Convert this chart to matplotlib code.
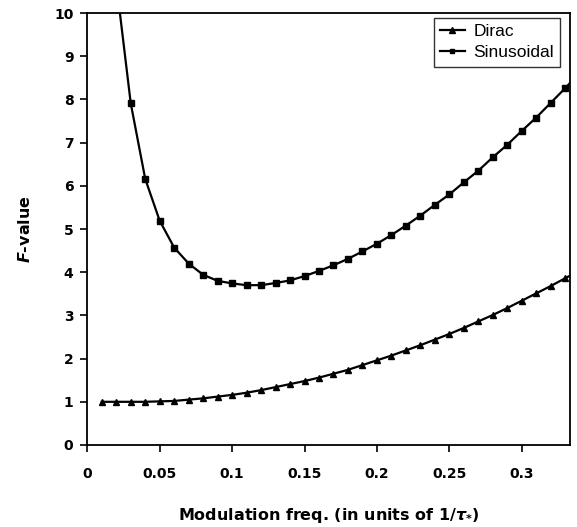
import numpy as np
import matplotlib
matplotlib.use("Agg")
import matplotlib.pyplot as plt

plt.rcParams['font.family'] = ['DejaVu Sans']
plt.rcParams['mathtext.fontset'] = 'custom'
plt.rcParams['mathtext.it'] = 'DejaVu Sans:italic:bold'
plt.rcParams['mathtext.rm'] = 'DejaVu Sans:bold'

# data
freq = [0.01, 0.02, 0.03, 0.04, 0.05, 0.06, 0.07, 0.08, 0.09, 0.10,
        0.11, 0.12, 0.13, 0.14, 0.15, 0.16, 0.17, 0.18, 0.19, 0.20,
        0.21, 0.22, 0.23, 0.24, 0.25, 0.26, 0.27, 0.28, 0.29, 0.30,
        0.31, 0.32, 0.33, 0.34]
dirac = [1.00, 1.00, 1.00, 1.00, 1.01, 1.02, 1.05, 1.08, 1.12, 1.16,
         1.21, 1.27, 1.34, 1.41, 1.48, 1.56, 1.65, 1.74, 1.85, 1.96,
         2.07, 2.19, 2.31, 2.44, 2.57, 2.71, 2.86, 3.01, 3.17, 3.34,
         3.51, 3.68, 3.86, 4.04]
sinusoidal = [np.nan, 10.7, 7.91, 6.16, 5.19, 4.57, 4.20, 3.94, 3.80, 3.74,
              3.70, 3.70, 3.75, 3.81, 3.91, 4.03, 4.16, 4.31, 4.48, 4.66,
              4.86, 5.08, 5.31, 5.56, 5.80, 6.08, 6.35, 6.66, 6.95, 7.27,
              7.58, 7.92, 8.26, 8.62]

fig = plt.figure(figsize=(5.77, 5.27), dpi=100)
ax = fig.add_axes([0.1513, 0.1556, 0.8366, 0.8197])

ax.plot(freq, dirac, color='black', lw=1.6, marker='^', ms=5, label='Dirac')
ax.plot(freq, sinusoidal, color='black', lw=1.6, marker='s', ms=4.2, label='Sinusoidal')

ax.set_xlim(0, 1 / 3)
ax.set_ylim(0, 10)
ax.set_xticks([0, 0.05, 0.1, 0.15, 0.2, 0.25, 0.3])
ax.set_xticklabels(['0', '0.05', '0.1', '0.15', '0.2', '0.25', '0.3'])
ax.set_yticks(range(0, 11))
ax.tick_params(axis='both', direction='out', length=5, width=1.2, labelsize=10)
ax.tick_params(axis='x', pad=11)
ax.tick_params(axis='y', pad=5)
for lab in ax.get_xticklabels() + ax.get_yticklabels():
    lab.set_fontweight('bold')
for s in ax.spines.values():
    s.set_linewidth(1.3)

ax.set_xlabel(r'Modulation freq. (in units of 1/$\tau_{*}$)', fontsize=11.5,
              fontweight='bold', labelpad=18)
ax.set_ylabel(r'$\it{F}$-value', fontsize=11.5, fontweight='bold', labelpad=15)

leg = ax.legend(loc='upper right', bbox_to_anchor=(560 / 577, 1 - 18 / 527),
                bbox_transform=fig.transFigure, borderaxespad=0,
                prop={'family': 'Liberation Sans', 'size': 12.5},
                frameon=True, fancybox=False, edgecolor='black',
                handlelength=1.4, handletextpad=0.5, markerscale=0.8,
                borderpad=0.35, labelspacing=0.35)
leg.get_frame().set_linewidth(1.0)

fig.savefig('out.png', dpi=100)
